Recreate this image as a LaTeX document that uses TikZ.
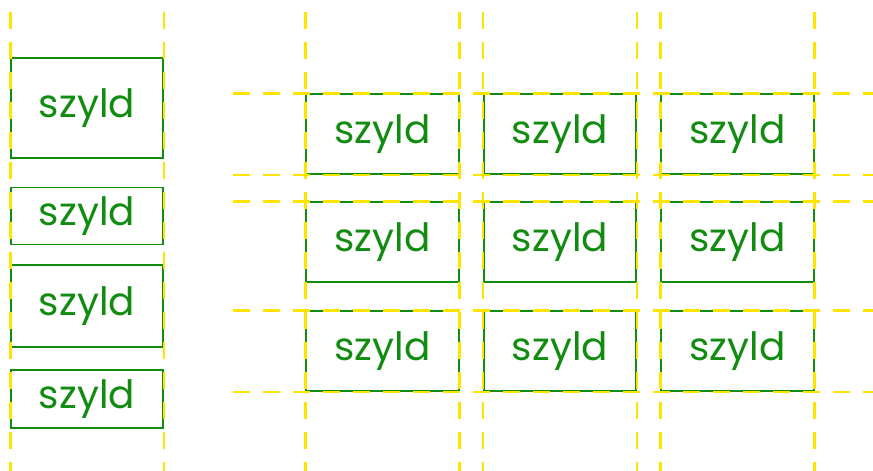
\documentclass[tikz,border=0pt]{standalone}
\usepackage{fontspec}
\setmainfont{Poppins}
\usetikzlibrary{positioning}
\definecolor{szGreen}{HTML}{118C11}
\definecolor{szYellow}{HTML}{FFE400}

\begin{document}
\begin{tikzpicture}[
    x=1pt, y=-1pt,
    sign/.style={draw=szGreen, line width=1.6pt, text=szGreen,
                 font=\fontsize{39}{39}\selectfont, inner sep=0pt},
    cell/.style={sign, minimum width=152.5pt, minimum height=80pt},
    guide/.style={draw=szYellow, line width=2.6pt, dash pattern=on 17pt off 13pt},
  ]
  \useasboundingbox (0,0) rectangle (873,471);
  % left column, x = 11 .. 163
  \node[sign, minimum width=152pt, minimum height=100pt] (s1) at (87,108)   {szyld};
  \node[sign, minimum width=152pt, minimum height=57pt]  (s2) at (87,216)   {szyld};
  \node[sign, minimum width=152pt, minimum height=82pt]  (s3) at (87,306)   {szyld};
  \node[sign, minimum width=152pt, minimum height=58pt]  (s4) at (87,399)   {szyld};

  % grid of signs: columns at x = 306, 484, 661, rows at y = 94, 202, 311
  \foreach \x/\c in {382.5/a, 560/b, 737.5/c}
    \foreach \y/\r in {134/1, 242/2, 351/3}
      \node[cell] (\c\r) at (\x,\y) {szyld};

  % guides on top
  \foreach \n in {s1, a1, b1, c1} {
    \draw[guide] (\n.west |- 0,12) -- (\n.west |- 0,471);
    \draw[guide] (\n.east |- 0,12) -- (\n.east |- 0,471);
  }
  \draw[guide] (233,0 |- a1.north) -- (873,0 |- a1.north);
  \draw[guide] (233,0 |- a1.south) -- (873,0 |- a1.south);
  \draw[guide] (233,0 |- a2.north) -- (873,0 |- a2.north);
  \draw[guide] (233,0 |- a3.north) -- (873,0 |- a3.north);
  \draw[guide] (233,0 |- a3.south) -- (873,0 |- a3.south);
\end{tikzpicture}
\end{document}
